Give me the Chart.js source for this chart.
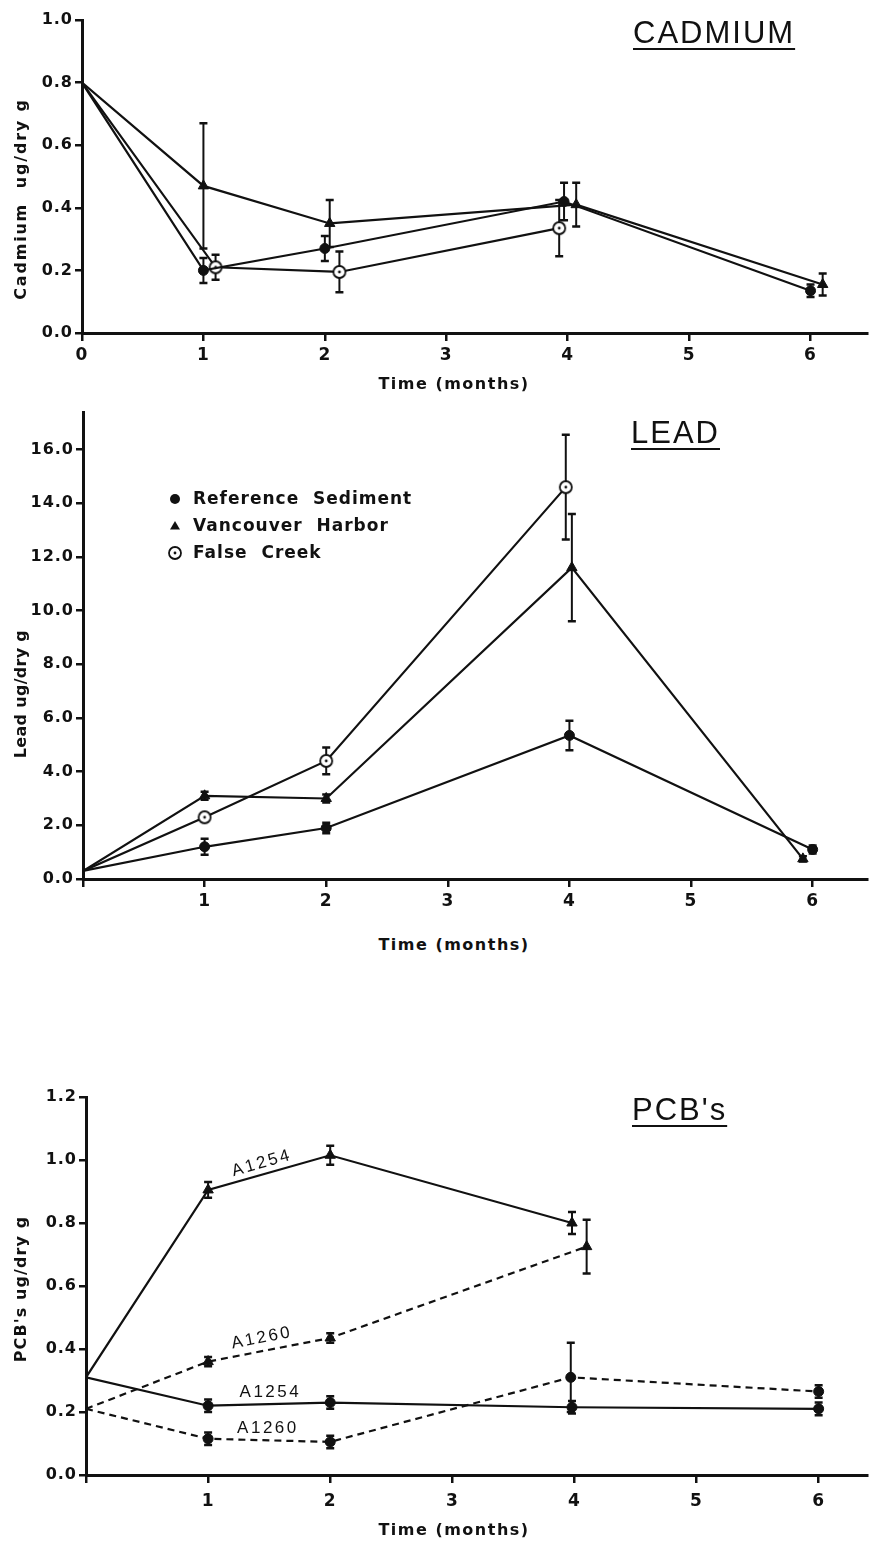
<!DOCTYPE html>
<html>
<head>
<meta charset="utf-8">
<script src="https://cdn.jsdelivr.net/npm/chart.js@4/dist/chart.umd.min.js"></script>
<style>
  body { margin: 0; background: #fff; }
  #page { position: relative; width: 874px; height: 1542px; overflow: hidden; color: #111; }
  canvas { position: absolute; left: 0; }
  .head { position: absolute; font: 31px/1 "Liberation Sans", sans-serif; letter-spacing: 2px;
          text-decoration: underline; text-decoration-thickness: 2px; text-underline-offset: 5px; }
  .xt { position: absolute; transform: translate(-50%, -50%); font: bold 16px/1 "DejaVu Sans", sans-serif;
        letter-spacing: 1.5px; white-space: pre; }
  .yt { position: absolute; transform: translate(-50%, -50%) rotate(-90deg); font: bold 16px/1 "DejaVu Sans", sans-serif;
        white-space: pre; }
</style>
</head>
<body>
<div id="page">
  <canvas id="cad" width="874" height="400" style="top:0"></canvas>
  <canvas id="lead" width="874" height="520" style="top:400px"></canvas>
  <canvas id="pcb" width="874" height="500" style="top:1040px"></canvas>

  <div class="head" style="left:633px; top:17px">CADMIUM</div>
  <div class="head" style="left:631px; top:417px">LEAD</div>
  <div class="head" style="left:632px; top:1094px">PCB's</div>

  <div class="xt" style="left:454px; top:384px">Time (months)</div>
  <div class="xt" style="left:454px; top:945px">Time (months)</div>
  <div class="xt" style="left:454px; top:1530px">Time (months)</div>

  <div class="yt" style="left:21px; top:199px; letter-spacing:1.8px">Cadmium  ug/dry g</div>
  <div class="yt" style="left:21px; top:694px; letter-spacing:0.3px">Lead ug/dry g</div>
  <div class="yt" style="left:21px; top:1289px; letter-spacing:1.1px">PCB's ug/dry g</div>
</div>

<script>
const ink = '#111';

const sites = ['Reference Sediment', 'Vancouver Harbor', 'False Creek'];
const monthTicks = [0, 1, 2, 3, 4, 5, 6];
const cdTicks = [0, 0.2, 0.4, 0.6, 0.8, 1.0];
const pbTicks = [0, 2, 4, 6, 8, 10, 12, 14, 16];
const pcbTicks = [0, 0.2, 0.4, 0.6, 0.8, 1.0, 1.2];

// cadmium (points are nudged sideways in the original so bars don't overlap)
const cdRefX = [0, 1, 2, 3.97, 6];
const cdRefY = [0.80, 0.20, 0.27, 0.42, 0.135];
const cdRefErr = [0, 0.04, 0.04, 0.06, 0.02];
const cdVanX = [0, 1, 2.04, 4.07, 6.1];
const cdVanY = [0.80, 0.47, 0.35, 0.41, 0.155];
const cdVanErr = [0, 0.2, 0.075, 0.07, 0.035];
const cdFcX = [0, 1.1, 2.12, 3.93];
const cdFcY = [0.80, 0.21, 0.195, 0.335];
const cdFcErr = [0, 0.04, 0.065, 0.09];

// lead
const pbRefX = [0, 1, 2, 4, 6];
const pbRefY = [0.3, 1.2, 1.9, 5.35, 1.1];
const pbRefErr = [0, 0.3, 0.2, 0.55, 0.15];
const pbVanX = [0, 1, 2, 4.02, 5.92];
const pbVanY = [0.3, 3.1, 3.0, 11.6, 0.75];
const pbVanErr = [0, 0.15, 0.15, 2.0, 0.1];
const pbFcX = [0, 1, 2, 3.97];
const pbFcY = [0.3, 2.3, 4.4, 14.6];
const pbFcErr = [0, 0.15, 0.5, 1.95];

// PCB's - Aroclor 1254 / 1260
const pcbVan54X = [0, 1, 2, 3.98];
const pcbVan54Y = [0.31, 0.905, 1.015, 0.80];
const pcbVan54Err = [0, 0.025, 0.03, 0.035];
const pcbVan60X = [0, 1, 2, 4.1];
const pcbVan60Y = [0.21, 0.36, 0.435, 0.725];
const pcbVan60Err = [0, 0.015, 0.015, 0.085];
const pcbRef54X = [0, 1, 2, 3.98, 6];
const pcbRef54Y = [0.31, 0.22, 0.23, 0.215, 0.21];
const pcbRef54Err = [0, 0.02, 0.02, 0.02, 0.02];
const pcbRef60X = [0, 1, 2, 3.97, 6];
const pcbRef60Y = [0.21, 0.115, 0.105, 0.31, 0.265];
const pcbRef60Err = [0, 0.02, 0.02, 0.11, 0.02];
const pcbTags = ['A1254', 'A1260', 'A1254', 'A1260'];

// open circle with a dot, used for False Creek
function ringDot() {
  const c = document.createElement('canvas');
  c.width = 16; c.height = 16;
  const g = c.getContext('2d');
  g.fillStyle = '#fff'; g.strokeStyle = ink; g.lineWidth = 1.8;
  g.beginPath(); g.arc(8, 8, 6, 0, Math.PI * 2); g.fill(); g.stroke();
  g.fillStyle = ink;
  g.beginPath(); g.arc(8, 8, 1.4, 0, Math.PI * 2); g.fill();
  return c;
}
const ring = ringDot();

function series(label, xs, ys, errs, style, dash) {
  return {
    label,
    data: xs.map((x, i) => ({ x, y: ys[i] })),
    errors: errs,
    showLine: true,
    borderColor: ink,
    borderWidth: 2.2,
    borderDash: dash || [],
    pointStyle: style,
    pointRadius: xs.map((x, i) => (i === 0 ? 0 : style === 'triangle' ? 6 : 5)),
    pointBackgroundColor: ink,
    pointBorderColor: ink,
    pointBorderWidth: 1
  };
}

const spacing = {
  id: 'spacing',
  beforeUpdate(chart) { chart.ctx.letterSpacing = '1px'; },
  beforeDraw(chart) { chart.ctx.letterSpacing = '1px'; }
};

const errorBars = {
  id: 'errorBars',
  beforeDatasetsDraw(chart) {
    const { ctx, scales: { x, y } } = chart;
    ctx.save();
    ctx.strokeStyle = ink;
    chart.data.datasets.forEach(ds => {
      if (!ds.errors) return;
      ds.data.forEach((p, i) => {
        const e = ds.errors[i];
        if (!e) return;
        const px = x.getPixelForValue(p.x);
        const top = y.getPixelForValue(p.y + e);
        const bot = y.getPixelForValue(p.y - e);
        ctx.lineWidth = 2;
        ctx.beginPath();
        ctx.moveTo(px, top); ctx.lineTo(px, bot);
        ctx.stroke();
        ctx.lineWidth = 2.5;
        ctx.beginPath();
        ctx.moveTo(px - 4, top); ctx.lineTo(px + 4, top);
        ctx.moveTo(px - 4, bot); ctx.lineTo(px + 4, bot);
        ctx.stroke();
      });
    });
    ctx.restore();
  }
};

const siteLegend = {
  id: 'siteLegend',
  afterDraw(chart, args, opts) {
    const ctx = chart.ctx;
    ctx.save();
    ctx.fillStyle = ink;
    ctx.font = 'bold 17px "DejaVu Sans"';
    ctx.letterSpacing = '1px';
    ctx.textBaseline = 'middle';
    chart.data.datasets.forEach((ds, i) => {
      const cx = opts.x, cy = opts.y + i * opts.gap;
      if (ds.pointStyle === 'circle') {
        ctx.beginPath(); ctx.arc(cx, cy, 5, 0, Math.PI * 2); ctx.fill();
      } else if (ds.pointStyle === 'triangle') {
        ctx.beginPath();
        ctx.moveTo(cx, cy - 5); ctx.lineTo(cx + 5, cy + 3.5); ctx.lineTo(cx - 5, cy + 3.5);
        ctx.closePath(); ctx.fill();
      } else {
        ctx.drawImage(ds.pointStyle, cx - 8, cy - 8);
      }
      ctx.fillText(ds.label.replace(' ', '  '), opts.x + 18, cy + 1);
    });
    ctx.restore();
  }
};

const curveLabels = {
  id: 'curveLabels',
  afterDatasetsDraw(chart, args, opts) {
    const { ctx, scales: { x, y } } = chart;
    ctx.save();
    ctx.fillStyle = ink;
    ctx.font = '17px "Liberation Sans"';
    ctx.letterSpacing = '2.5px';
    ctx.textAlign = 'center';
    ctx.textBaseline = 'middle';
    opts.items.forEach(t => {
      ctx.save();
      ctx.translate(x.getPixelForValue(t.x), y.getPixelForValue(t.y));
      ctx.rotate(t.angle * Math.PI / 180);
      ctx.fillText(t.text, 0, 0);
      ctx.restore();
    });
    ctx.restore();
  }
};

function axes(o) {
  return {
    x: {
      type: 'linear', min: 0, max: o.xMax,
      afterFit: s => { s.height = o.xHeight; },
      afterBuildTicks: s => { s.ticks = monthTicks.map(v => ({ value: v })); },
      border: { color: ink, width: 3 },
      grid: { drawOnChartArea: false, color: ink, lineWidth: 2.5, tickLength: 8 },
      ticks: {
        color: ink, font: { family: 'DejaVu Sans', size: 17, weight: 'bold' },
        padding: o.xPad, maxRotation: 0, autoSkip: false,
        callback: v => (v === 0 && !o.zeroLabel ? '' : String(v))
      }
    },
    y: {
      type: 'linear', min: 0, max: o.yMax,
      afterFit: s => { s.width = o.left; },
      afterBuildTicks: s => { s.ticks = o.yTicks.map(v => ({ value: v })); },
      border: { color: ink, width: 3 },
      grid: { drawOnChartArea: false, color: ink, lineWidth: 2.5, tickLength: 7 },
      ticks: {
        color: ink, font: { family: 'DejaVu Sans', size: 16, weight: 'bold' },
        padding: 2, autoSkip: false, callback: v => v.toFixed(1)
      }
    }
  };
}

function panel(id, datasets, o, extra, pluginOpts) {
  return new Chart(document.getElementById(id), {
    type: 'scatter',
    data: { datasets },
    options: {
      responsive: false,
      animation: false,
      layout: { padding: { top: o.top, left: 0, right: 0, bottom: 0 } },
      scales: axes(o),
      plugins: Object.assign({ legend: { display: false }, tooltip: { enabled: false } }, pluginOpts || {})
    },
    plugins: [spacing, errorBars].concat(extra || [])
  });
}

panel('cad', [
  series(sites[0], cdRefX, cdRefY, cdRefErr, 'circle'),
  series(sites[1], cdVanX, cdVanY, cdVanErr, 'triangle'),
  series(sites[2], cdFcX, cdFcY, cdFcErr, ring)
], { top: 20, left: 82, xHeight: 67, xMax: 6.465, yMax: 1.0, yTicks: cdTicks, xPad: 4, zeroLabel: true });

panel('lead', [
  series(sites[0], pbRefX, pbRefY, pbRefErr, 'circle'),
  series(sites[1], pbVanX, pbVanY, pbVanErr, 'triangle'),
  series(sites[2], pbFcX, pbFcY, pbFcErr, ring)
], { top: 12, left: 83, xHeight: 41, xMax: 6.447, yMax: 17.4, yTicks: pbTicks, xPad: 4 },
  [siteLegend], { siteLegend: { x: 175, y: 99, gap: 27 } });

panel('pcb', [
  series(pcbTags[0], pcbVan54X, pcbVan54Y, pcbVan54Err, 'triangle'),
  series(pcbTags[1], pcbVan60X, pcbVan60Y, pcbVan60Err, 'triangle', [7, 5]),
  series(pcbTags[2], pcbRef54X, pcbRef54Y, pcbRef54Err, 'circle'),
  series(pcbTags[3], pcbRef60X, pcbRef60Y, pcbRef60Err, 'circle', [7, 5])
], { top: 57, left: 86, xHeight: 65, xMax: 6.396, yMax: 1.2, yTicks: pcbTicks, xPad: 8 },
  [curveLabels], {
    curveLabels: {
      items: [
        { text: pcbTags[0], x: 1.44, y: 0.99, angle: -16 },
        { text: pcbTags[1], x: 1.44, y: 0.435, angle: -11 },
        { text: pcbTags[2], x: 1.51, y: 0.263, angle: 0 },
        { text: pcbTags[3], x: 1.49, y: 0.149, angle: 0 }
      ]
    }
  });
</script>
</body>
</html>
